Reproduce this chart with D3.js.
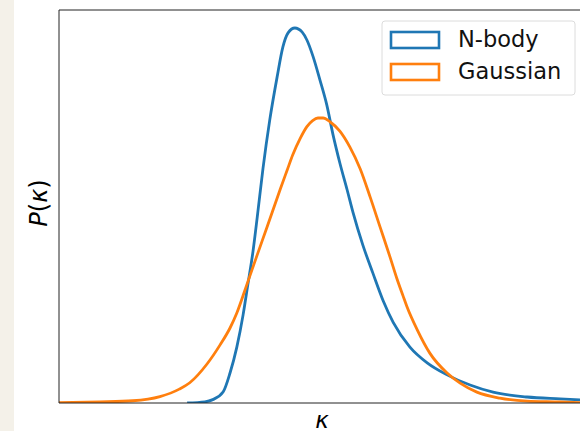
<!DOCTYPE html>
<html>
<head>
<meta charset="utf-8">
<script src="https://cdn.jsdelivr.net/npm/d3@7"></script>
<style>
  body { margin: 0; background: #fff; }
  svg { display: block; font-family: 'DejaVu Sans', sans-serif; }
</style>
</head>
<body>
<div id="chart"></div>
<script>
// kappa in arbitrary units across the visible frame, P normalised to N-body peak
const nbodyK = [24.5, 27.9, 29.4, 31.4, 32.7, 34.0, 35.2, 36.1, 37.1, 37.9, 39.0, 40.3, 41.7, 42.8, 43.8, 45.1, 46.5, 47.4, 48.6, 49.9, 51.2, 52.4, 53.7, 55.1, 56.2, 58.1, 60.0, 62.0, 63.9, 67.1, 70.4, 74.2, 78.6, 83.0, 89.5, 95.8, 100];
const nbodyP = [0, 0.003, 0.009, 0.030, 0.080, 0.149, 0.235, 0.315, 0.405, 0.495, 0.625, 0.755, 0.869, 0.949, 0.987, 1.000, 0.989, 0.968, 0.923, 0.861, 0.795, 0.715, 0.640, 0.568, 0.509, 0.421, 0.347, 0.272, 0.215, 0.149, 0.107, 0.075, 0.048, 0.029, 0.016, 0.011, 0.008];

const gaussK = [0, 7.8, 14.1, 19.3, 23.0, 25.0, 28.3, 30.8, 32.7, 34.0, 35.9, 37.9, 39.8, 41.3, 42.3, 43.6, 44.7, 46.1, 47.4, 48.5, 49.5, 50.5, 51.8, 53.7, 55.6, 57.6, 59.5, 61.4, 63.3, 64.6, 65.8, 66.5, 68.5, 70.9, 74.2, 76.7, 79.9, 84.3, 89.5, 95.8, 100];
const gaussP = [0.001, 0.003, 0.006, 0.017, 0.037, 0.054, 0.104, 0.155, 0.200, 0.240, 0.315, 0.395, 0.470, 0.530, 0.570, 0.620, 0.662, 0.705, 0.737, 0.753, 0.760, 0.760, 0.750, 0.725, 0.683, 0.624, 0.549, 0.469, 0.389, 0.332, 0.285, 0.258, 0.195, 0.133, 0.080, 0.053, 0.029, 0.013, 0.005, 0.003, 0.001];

const seriesNames = ['N-body', 'Gaussian'];
const colors = ['#1f77b4', '#ff7f0e'];

const width = 580;
const height = 431;
const area = { left: 59, top: 10, right: 582, bottom: 403 };

const svg = d3.select('#chart')
  .append('svg')
  .attr('width', width)
  .attr('height', height);

svg.append('rect')
  .attr('x', 0).attr('y', 0)
  .attr('width', 14).attr('height', height)
  .attr('fill', '#f4f1e9');

const xScale = d3.scaleLinear().domain([0, 100]).range([area.left, area.right]);
const yScale = d3.scaleLinear().domain([0, 1.048]).range([area.bottom, area.top]);

svg.append('clipPath').attr('id', 'clip')
  .append('rect')
  .attr('x', area.left).attr('y', area.top)
  .attr('width', area.right - area.left).attr('height', area.bottom - area.top);

const line = d3.line()
  .x((d) => xScale(d[0]))
  .y((d) => yScale(d[1]))
  .curve(d3.curveMonotoneX);

const series = [
  d3.zip(nbodyK, nbodyP),
  d3.zip(gaussK, gaussP),
];

const plot = svg.append('g').attr('clip-path', 'url(#clip)');
plot.selectAll('path')
  .data(series)
  .join('path')
  .attr('d', line)
  .attr('fill', 'none')
  .attr('stroke', (d, i) => colors[i])
  .attr('stroke-width', 2.8)
  .attr('stroke-linejoin', 'round');

// spines (right side falls outside the picture)
svg.append('path')
  .attr('d', `M${area.right},${area.top}H${area.left}V${area.bottom}H${area.right}`)
  .attr('fill', 'none')
  .attr('stroke', '#222')
  .attr('stroke-width', 1);

// axis labels
svg.append('text')
  .attr('x', 322)
  .attr('y', 428)
  .attr('text-anchor', 'middle')
  .attr('font-size', 23)
  .attr('font-style', 'italic')
  .text('κ');

const ylab = svg.append('text')
  .attr('transform', 'translate(47,203) rotate(-90)')
  .attr('text-anchor', 'middle')
  .attr('font-size', 24);
ylab.append('tspan').attr('font-style', 'italic').text('P');
ylab.append('tspan').text('(');
ylab.append('tspan').attr('font-style', 'italic').text('κ');
ylab.append('tspan').text(')');

// legend
const legend = svg.append('g');
legend.append('rect')
  .attr('x', 382).attr('y', 21)
  .attr('width', 193).attr('height', 74)
  .attr('rx', 3)
  .attr('fill', '#fff')
  .attr('fill-opacity', 0.8)
  .attr('stroke', '#dcdcdc');

seriesNames.forEach((name, i) => {
  const y = 31 + i * 32;
  legend.append('rect')
    .attr('x', 391).attr('y', y + 1)
    .attr('width', 48).attr('height', 16)
    .attr('fill', 'none')
    .attr('stroke', colors[i])
    .attr('stroke-width', 2.6);
  legend.append('text')
    .attr('x', 458).attr('y', y + 16)
    .attr('font-size', 22.5)
    .attr('fill', '#111')
    .text(name);
});
</script>
</body>
</html>
